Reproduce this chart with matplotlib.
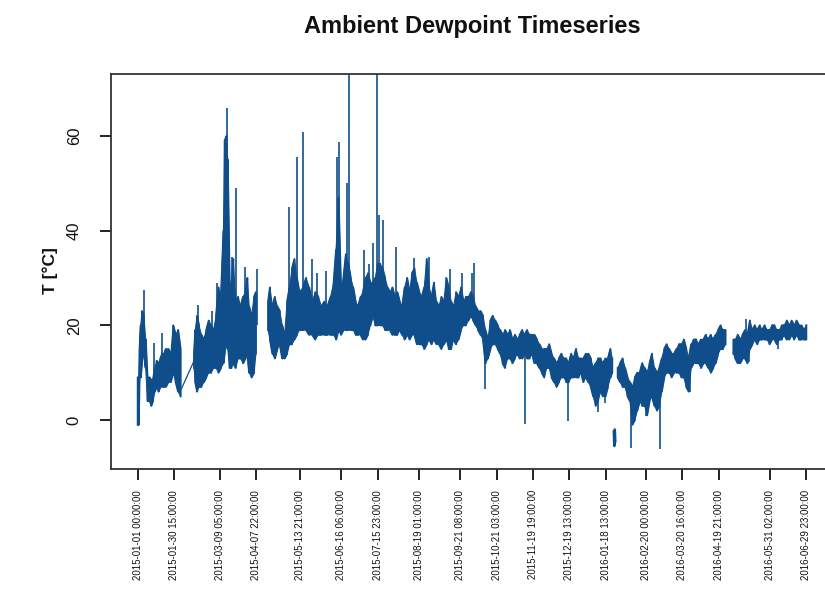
import numpy as np
import matplotlib
matplotlib.use('Agg')
import matplotlib.pyplot as plt
import matplotlib.dates as mdates
from datetime import datetime

nan = np.nan

# ---- data (days since 2015-01-01 00:00, values in degC) ----
# envelope of the dense hourly series: low / high value around each day
band_day = [0, 0.8, 1.5, 2.5, 3.5, 5, 6.5, 8, 9.5, 11, 12.5, 14, 15.5, 17, 18.5, 20, 21.5, 23, 25, 27, 29, 31, 33, 35,
            nan,
            46, 47, 48.5, 50, 52, 54, 56, 58, 60, 62, 64, 66, 68, 70, 71, 72.5, 73.5, 75, 76.5, 78, 80, 82, 84, 86, 88,
            89.5, 91, 93, 95, 96.5,
            nan,
            106.5, 108, 110, 112, 114, 116, 118, 120, 122, 124, 126, 128, 130, 132, 135, 137.5, 140, 142.5, 145, 147.5,
            150, 152.5, 155, 157.5, 160, 162, 164, 166, 168, 170, 172, 174, 176, 178, 180, 182, 184, 186, 188, 190,
            192, 194, 196, 198, 200, 202, 204, 206, 208, 210, 212, 214, 216, 218, 220, 222, 224, 226, 228, 230,
            232, 234, 236, 238, 240, 242, 244, 246, 248, 250, 252, 254, 256, 258, 260, 262, 264, 266, 268, 270,
            272, 274, 276, 278, 280, 282, 284, 286, 288, 290, 292, 294, 296, 298, 300, 302, 304, 306, 308, 310,
            312, 314, 316, 318, 320, 322, 324, 326, 328, 330, 332, 334, 336, 338, 340, 342, 344, 346, 348, 350,
            352, 354, 356, 358, 360, 362, 364, 366, 368, 370, 372, 374, 376, 378, 380, 382, 384, 386, 387.5,
            nan,
            392, 394, 396, 398, 400, 402, 404, 406, 408, 410, 412, 414, 416, 418, 420, 422, 424, 426, 428, 430,
            432, 434, 436, 438, 440, 442, 444, 446, 448, 450, 452, 454, 456, 458, 460, 462, 464, 466, 468, 470,
            472, 474, 476, 478, 480,
            nan,
            486.5, 488, 490, 492, 494, 496, 498, 500, 502, 504, 506, 508, 510, 512, 514, 516, 518, 520, 522, 524,
            526, 528, 530, 532, 534, 536, 538, 540, 542, 544, 546]

band_lo = [-1, -1, 9, 9, 12, 14, 11, 4, 4, 3, 4, 6, 7, 6, 7, 7, 7, 7, 8, 8, 10, 8, 6, 5,
           nan,
           11, 8, 6, 7, 7, 8, 9, 10, 10, 11, 11, 10, 11, 12, 14, 16, 15, 11, 11, 12, 11, 13, 13, 12, 13,
           14, 10, 9, 10, 14,
           nan,
           19, 17, 14, 13, 15, 16, 13, 13, 14, 16, 16, 17, 18, 19, 19, 19, 18, 18, 17, 18,
           18, 18, 18, 18, 18, 17, 19, 18, 19, 19, 19, 19, 19, 18, 18, 18, 17, 17, 18, 20,
           22, 20, 20, 20, 20, 19, 19, 19, 18, 18, 18, 19, 18, 17, 18, 17, 18, 18, 16, 16,
           16, 15, 16, 17, 16, 17, 16, 16, 15, 16, 17, 15, 15, 17, 16, 17, 19, 20, 20, 21,
           22, 21, 20, 19, 18, 17, 12, 13, 15, 16, 16, 15, 14, 12, 11, 13, 13, 12, 13, 14,
           13, 13, 14, 13, 13, 14, 12, 12, 11, 10, 9, 11, 11, 9, 8, 7, 8, 9, 9, 8,
           8, 9, 9, 9, 9, 10, 8, 9, 8, 7, 5, 3, 4, 6, 5, 5, 7, 9, 10,
           nan,
           9, 8, 7, 7, 5, 4, -1, 0, 2, 4, 3, 3, 1, 4, 5, 3, 2, 3, 6, 9,
           10, 10, 9, 10, 10, 10, 9, 9, 7, 6, 11, 12, 12, 12, 11, 12, 12, 11, 10, 11,
           12, 14, 15, 15, 16,
           nan,
           14, 13, 12, 12, 13, 13, 12, 15, 16, 17, 16, 17, 17, 17, 17, 16, 17, 17, 16, 17,
           17, 18, 17, 17, 18, 17, 18, 17, 17, 17, 17]

band_hi = [9, 9, 15, 20, 23, 22, 17, 9, 9, 8.5, 8.5, 11, 12.5, 12, 13, 14, 14, 15, 15, 14, 20, 18, 19, 15,
           nan,
           14, 19, 22, 20, 18, 17, 19, 21, 20, 19, 22, 28, 26, 40, 59, 60, 55, 30, 27, 34, 25, 26, 24, 26, 27,
           30, 24, 22, 26, 27,
           nan,
           25, 28, 24, 26, 24, 23, 20, 18, 25, 28, 32, 34, 30, 27, 28, 30, 28, 25, 27, 26,
           24, 25, 24, 26, 29, 36, 47, 28, 30, 35, 33, 30, 28, 25, 24, 26, 27, 30, 31, 29,
           29, 30, 33, 33, 32, 30, 28, 27, 28, 26, 27, 25, 24, 28, 30, 27, 31, 32, 29, 27,
           26, 28, 34, 28, 26, 29, 25, 24, 26, 25, 30, 28, 25, 24, 27, 26, 28, 25, 26, 26,
           27, 26, 24, 23, 23, 22, 19, 17, 21, 22, 21, 20, 19, 18, 19, 18, 19, 17, 18, 17,
           18, 19, 18, 19, 18, 18, 18, 17, 16, 15, 15, 15, 16, 14, 13, 12, 13, 14, 13, 13,
           12, 14, 13, 15, 13, 13, 13, 14, 14, 13, 11, 12, 13, 13, 12, 13, 13, 15, 13,
           nan,
           11, 12, 13, 11, 9, 8, 7, 9, 10, 10, 12, 11, 10, 12, 14, 11, 10, 11, 13, 15,
           16, 15, 14, 14, 15, 16, 16, 17, 15, 13, 16, 17, 17, 16, 17, 17, 18, 17, 18, 17,
           18, 19, 20, 19, 19,
           nan,
           17, 17, 18, 17, 18, 19, 18, 21, 19, 20, 19, 20, 19, 20, 19, 19, 20, 20, 19, 19,
           20, 20, 21, 20, 21, 20, 21, 20, 20, 19, 20]

# isolated narrow excursions (start value -> extreme value)
spike_day = [4.8, 13.6, 20, 49.6, 61, 65, 72.5, 76.6, 79.9, 88, 97, 123.2, 129.7, 134.6, 142, 146, 153.4,
             162.8, 164.1, 170.6, 172.2, 184.4, 189, 191.9, 195.1, 196.8, 200, 210.6, 226, 237.6, 254.8,
             264.6, 273, 274.4, 496.6,
             283.8, 316, 351.2, 375.5, 381.7, 402.7, 415, 426.5, 451, 499, 522.8]
spike_from = [20, 9, 12, 15, 15, 18, 40, 20, 20, 20, 20, 20, 25, 22, 22, 22, 22,
              30, 30, 25, 25, 22, 22, 22, 25, 25, 25, 22, 22, 22, 20,
              20, 22, 22, 15,
              15, 14, 10, 8, 8, 6, 6, 6, 10, 15, 18]
spike_to = [27.5, 16.3, 18.4, 24.4, 23, 29, 65.9, 34.5, 49, 32.4, 32, 45, 55.6, 60.8, 34, 31, 31.4,
            55.6, 58.7, 50, 80, 36, 33, 37.5, 80, 43.4, 42.3, 36.6, 34.3, 34.5, 31.8,
            31, 31, 33.2, 21.3,
            6.5, -0.8, -0.2, 1.7, 3.6, -6, 0.8, -6.1, 5.9, 12.2, 15]

# thin connecting line across the February gap
link_day = [35.5, 46]
link_val = [6.5, 12.5]

# small isolated piece in January 2016
iso_day = [388.8, 389.2, 389.6, 390.0]
iso_val = [-2.5, -5.5, -2.0, -4.5]

tick_labels = ["2015-01-01 00:00:00", "2015-01-30 15:00:00", "2015-03-09 05:00:00", "2015-04-07 22:00:00",
               "2015-05-13 21:00:00", "2015-06-16 06:00:00", "2015-07-15 23:00:00", "2015-08-19 01:00:00",
               "2015-09-21 08:00:00", "2015-10-21 03:00:00", "2015-11-19 19:00:00", "2015-12-19 13:00:00",
               "2016-01-18 13:00:00", "2016-02-20 00:00:00", "2016-03-20 16:00:00", "2016-04-19 21:00:00",
               "2016-05-31 02:00:00", "2016-06-29 23:00:00"]
y_ticks = [0, 20, 40, 60]

title = "Ambient Dewpoint Timeseries"
ylabel = "T [°C]"

# ---- drawing ----
plt.rcParams['font.family'] = ['Liberation Sans', 'DejaVu Sans']
col = '#104E8B'

fig = plt.figure(figsize=(8.25, 6.02), dpi=100)
ax = fig.add_axes([111/825, 1 - 469/602, (833 - 111)/825, (469 - 74)/602])

base = mdates.date2num(datetime(2015, 1, 1))
bd = base + np.array(band_day, dtype=float)
blo = np.array(band_lo, dtype=float)
bhi = np.array(band_hi, dtype=float)

# solid body of the dense series
ax.fill_between(bd, blo, bhi, color=col, lw=0.8, edgecolor=col)

# vertical hourly swings give the band its jagged texture
xs, ys = [], []
flip = False
for d, l, h in zip(bd, blo, bhi):
    if np.isnan(d):
        xs.append(nan); ys.append(nan)
        continue
    xs += [d, d]
    ys += ([h, l] if flip else [l, h])
    flip = not flip
ax.plot(xs, ys, color=col, lw=1.4)

ax.vlines(base + np.array(spike_day), spike_from, spike_to, color=col, lw=1.2)
ax.plot(base + np.array(link_day), link_val, color=col, lw=0.9)
ax.plot(base + np.array(iso_day), iso_val, color=col, lw=1.8)

tick_pos = [mdates.date2num(datetime.strptime(t, "%Y-%m-%d %H:%M:%S")) for t in tick_labels]
span = tick_pos[-1] - tick_pos[0]
ax.set_xlim(tick_pos[0] - 0.04 * span, tick_pos[-1] + 0.04 * span)
ax.set_ylim(-10.35, 73.1)

ax.set_xticks(tick_pos)
ax.set_xticklabels(tick_labels, rotation=90, fontsize=7, color='#111111')
ax.set_yticks(y_ticks)
ax.set_yticklabels([str(v) for v in y_ticks], rotation=90, va='center', fontsize=12, color='#111111')
ax.tick_params(axis='x', length=8, width=1.4, pad=7, color='#222222')
ax.tick_params(axis='y', length=8, width=1.4, pad=13, color='#222222')
for s in ax.spines.values():
    s.set_linewidth(1.3)
    s.set_color('#333333')

fig.text(472/825, 1 - 26/602, title, ha='center', va='center', fontsize=17, fontweight='bold', color='#111111')
fig.text(50/825, 1 - 271/602, ylabel, ha='center', va='center', rotation=90, fontsize=12.5,
         fontweight='bold', color='#111111')

fig.savefig('out.png', dpi=100)
